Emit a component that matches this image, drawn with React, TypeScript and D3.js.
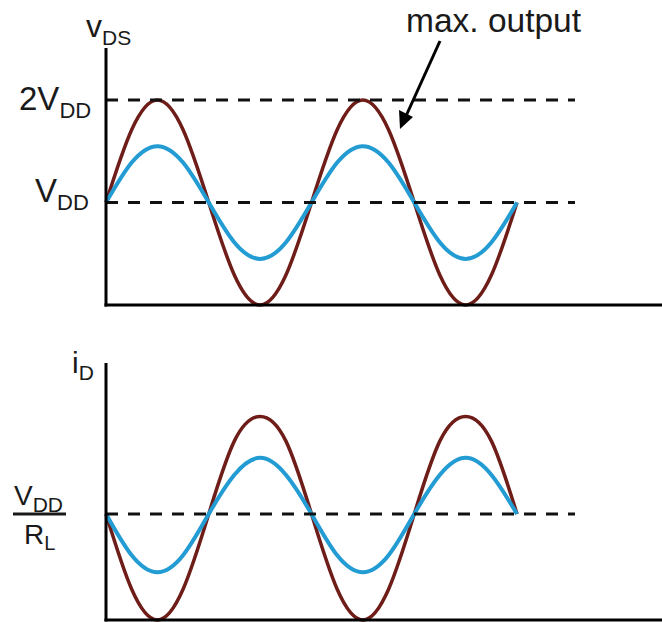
import React from 'react';
import * as d3 from 'd3';

// time in periods, sampled every eighth of a period
const time = [0, 0.125, 0.25, 0.375, 0.5, 0.625, 0.75, 0.875, 1, 1.125, 1.25, 1.375, 1.5, 1.625, 1.75, 1.875, 2];

// v_DS in units of V_DD
const vdsMax = [1, 1.71, 2, 1.71, 1, 0.29, 0, 0.29, 1, 1.71, 2, 1.71, 1, 0.29, 0, 0.29, 1];
const vdsSmall = [1, 1.39, 1.55, 1.39, 1, 0.61, 0.45, 0.61, 1, 1.39, 1.55, 1.39, 1, 0.61, 0.45, 0.61, 1];

// i_D in units of V_DD / R_L
const idMax = [1, 0.29, 0, 0.29, 1, 1.69, 1.92, 1.69, 1, 0.29, 0, 0.29, 1, 1.69, 1.92, 1.69, 1];
const idSmall = [1, 0.61, 0.45, 0.61, 1, 1.37, 1.53, 1.37, 1, 0.61, 0.45, 0.61, 1, 1.37, 1.53, 1.37, 1];

const vdsLevels = [1, 2];
const idLevels = [1];

const brown = '#6e1d18';
const blue = '#239bd3';
const font = '"Liberation Sans", Arial, Helvetica, sans-serif';

const width = 662;
const height = 622;

const x = d3.scaleLinear().domain([0, 2]).range([106, 517]);
const yTop = d3.scaleLinear().domain([0, 2]).range([305, 100]);
const yBot = d3.scaleLinear().domain([0, 1]).range([620, 514]);

function Panel({ y, yAxisTop, series, levels }: any) {
  const [y0] = y.range();
  const line = d3.line<number>()
    .curve(d3.curveNatural)
    .x((d, i) => x(time[i]))
    .y((d) => y(d));
  return (
    <g>
      {series.map((s: any, i: number) => (
        <path key={i} d={line(s.values) || ''} fill="none" stroke={s.color} strokeWidth={s.w} />
      ))}
      {levels.map((l: number) => (
        <line key={l} x1={106} x2={575} y1={y(l)} y2={y(l)} stroke="#111" strokeWidth={3} strokeDasharray="12,10" />
      ))}
      <line x1={106} x2={106} y1={yAxisTop} y2={y0 + 1.5} stroke="#000" strokeWidth={3} />
      <line x1={104.5} x2={width} y1={y0} y2={y0} stroke="#000" strokeWidth={3} />
    </g>
  );
}

export default function App() {
  return (
    <svg width={width} height={height} style={{ position: 'absolute', left: 0, top: 0, background: '#fff' }}
      fontFamily={font} fill="#1a1a1a">
      <Panel y={yTop} yAxisTop={48}
        series={[{ values: vdsMax, color: brown, w: 3.5 }, { values: vdsSmall, color: blue, w: 4 }]}
        levels={vdsLevels} />
      <Panel y={yBot} yAxisTop={363}
        series={[{ values: idMax, color: brown, w: 3.5 }, { values: idSmall, color: blue, w: 4 }]}
        levels={idLevels} />

      {/* top axis labels */}
      <text x={86} y={37} fontSize={32}>v<tspan dy={8} fontSize={21}>DS</tspan></text>
      <text x={19} y={110} fontSize={33}>2V<tspan dy={8} fontSize={22}>DD</tspan></text>
      <text x={35} y={202} fontSize={33}>V<tspan dy={8} fontSize={22}>DD</tspan></text>

      {/* bottom axis labels */}
      <text x={72} y={373} fontSize={30}>i<tspan dy={7} fontSize={21}>D</tspan></text>
      <text x={14} y={505} fontSize={28}>V<tspan dy={7} fontSize={21}>DD</tspan></text>
      <line x1={13} x2={66} y1={514} y2={514} stroke="#1a1a1a" strokeWidth={3} />
      <text x={24} y={544} fontSize={28}>R<tspan dy={6} fontSize={20}>L</tspan></text>

      {/* annotation */}
      <text x={406} y={32} fontSize={33.5}>max. output</text>
      <line x1={440} y1={41} x2={406} y2={116} stroke="#000" strokeWidth={3} />
      <path d="M400,129 L399,110 L413,117 Z" fill="#000" />
    </svg>
  );
}
